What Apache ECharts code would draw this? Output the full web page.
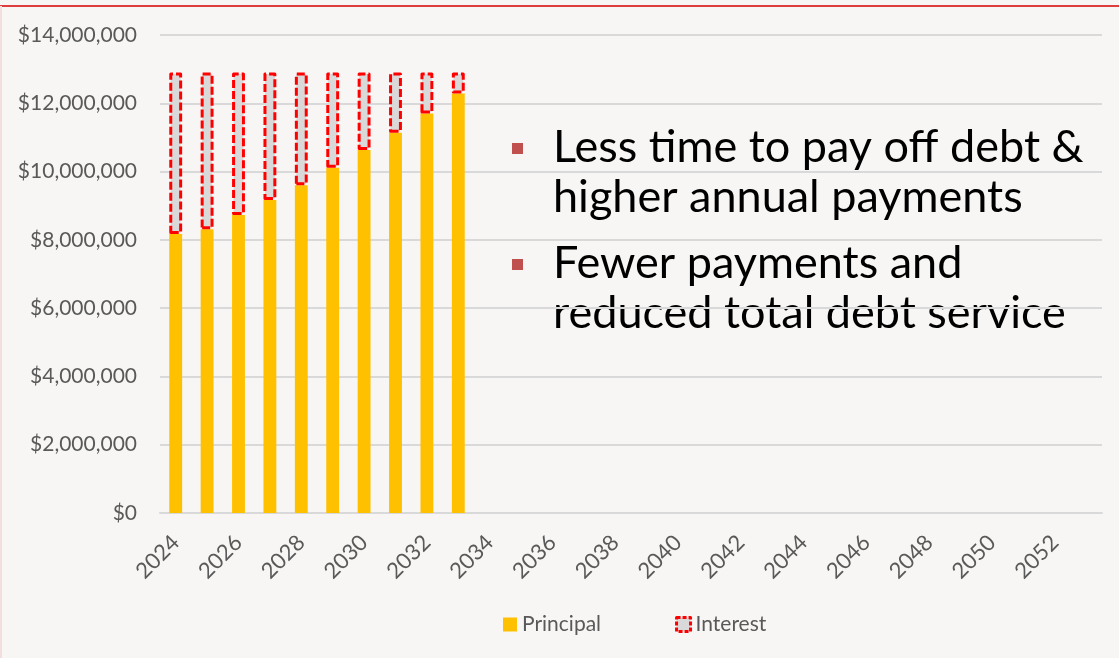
<!DOCTYPE html>
<html>
<head>
<meta charset="utf-8">
<title>Debt Service Schedule</title>
<script src="https://cdn.jsdelivr.net/npm/echarts@6/dist/echarts.min.js"></script>
<style>
  html, body { margin: 0; padding: 0; background: #f8f6f4; }
  #chart { width: 1119px; height: 658px; }
</style>
</head>
<body>
<div id="chart"></div>
<script>
// Fiscal years on the horizontal axis
const years = ['2024','2025','2026','2027','2028','2029','2030','2031','2032','2033',
  '2034','2035','2036','2037','2038','2039','2040','2041','2042','2043',
  '2044','2045','2046','2047','2048','2049','2050','2051','2052','2053'];

// Annual principal and interest payments (dollars)
const principal = [8170000, 8310000, 8730000, 9170000, 9600000, 10110000, 10630000, 11140000, 11700000, 12290000];
const interest  = [4730000, 4590000, 4170000, 3730000, 3300000, 2790000, 2270000, 1760000, 1200000, 610000];

// Bullet notes shown beside the bars
const notes = [
  ['Less time to pay off debt &', 'higher annual payments'],
  ['Fewer payments and', 'reduced total debt service']
];

const FONT = 'Lato, "Open Sans", sans-serif';
const chart = echarts.init(document.getElementById('chart'));

const noteGraphics = [];
const noteTops = [122, 238];
notes.forEach((lines, i) => {
  noteGraphics.push({
    type: 'rect', left: 512, top: noteTops[i] + 21,
    shape: { width: 11, height: 11 },
    style: { fill: '#c0504d' }, silent: true
  });
  noteGraphics.push({
    type: 'text', left: 553, top: noteTops[i],
    style: { text: lines.join('\n'), fill: '#000000', font: '45px ' + FONT, lineHeight: 50 },
    silent: true
  });
});

const dashed = {
  color: '#d9d9d9', borderColor: '#ff0000', borderWidth: 3,
  borderType: [8, 3], borderJoin: 'round'
};

chart.setOption({
  backgroundColor: '#f8f6f4',
  animation: false,
  textStyle: { fontFamily: FONT },
  grid: { left: 160, right: 17, top: 35, bottom: 145, containLabel: false },
  legend: {
    left: 498, top: 609,
    itemWidth: 14, itemHeight: 14, itemGap: 74,
    textStyle: { color: '#595959', fontSize: 21, fontFamily: FONT },
    data: [
      { name: 'Principal', icon: 'rect', itemStyle: { color: '#ffc000', borderWidth: 0 } },
      { name: 'Interest', icon: 'rect', itemStyle: Object.assign({}, dashed, { borderType: [4, 2] }) }
    ]
  },
  xAxis: {
    type: 'category',
    data: years,
    boundaryGap: true,
    axisLine: { lineStyle: { color: '#d9d9d9', width: 2 } },
    axisTick: { show: false },
    axisLabel: { interval: 1, rotate: 45, color: '#595959', fontSize: 22, margin: 26, fontFamily: FONT }
  },
  yAxis: {
    type: 'value',
    min: 0, max: 14000000, interval: 2000000,
    axisLine: { show: false },
    axisTick: { show: false },
    splitLine: { lineStyle: { color: '#d9d9d9', width: 2 } },
    axisLabel: {
      color: '#595959', fontSize: 21, margin: 23, fontFamily: FONT,
      formatter: v => '$' + v.toLocaleString('en-US')
    }
  },
  series: [
    {
      name: 'Principal', type: 'bar', stack: 'debt',
      barWidth: '41%',
      itemStyle: { color: '#ffc000' },
      data: principal
    },
    {
      name: 'Interest', type: 'bar', stack: 'debt',
      barWidth: '41%',
      itemStyle: dashed,
      data: interest
    }
  ],
  graphic: [
    { type: 'line', shape: { x1: 0, y1: 6, x2: 1119, y2: 6 }, style: { stroke: '#d40000', lineWidth: 1.5 }, silent: true },
    { type: 'line', shape: { x1: 1, y1: 6, x2: 1, y2: 658 }, style: { stroke: '#f3dede', lineWidth: 2 }, silent: true }
  ].concat(noteGraphics)
});
</script>
</body>
</html>
